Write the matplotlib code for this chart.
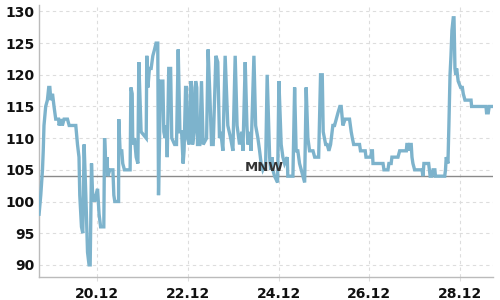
import matplotlib
matplotlib.use("Agg")
import matplotlib.pyplot as plt
import matplotlib.dates as mdates
import numpy as np
import pandas as pd

# Hours since 18.12. 00:00 and water level readings
hours = [17.5, 18.4, 19.3, 19.7, 20.1, 21.0, 21.9, 22.6, 23.2, 23.7, 24.6, 25.4, 26.3, 27.8, 28.1,
         29.0, 29.8, 30.7, 32.5, 33.4, 36.9, 37.8, 38.6, 39.0, 39.9, 40.6, 41.3, 42.2, 43.1, 43.9,
         44.5, 45.2, 45.9, 46.4, 46.9, 47.5, 48.4, 49.2, 50.0, 51.7, 52.1, 52.9, 53.4, 53.8, 54.9,
         56.5, 57.0, 57.5, 59.5, 59.6, 60.3, 61.2, 61.7, 62.6, 65.6, 66.0, 66.7, 67.0, 67.9, 68.8,
         69.7, 70.2, 71.1, 71.4, 74.1, 74.4, 75.0, 75.8, 76.7, 77.6, 78.5, 79.3, 80.2, 80.6, 81.7,
         82.9, 83.4, 84.1, 84.8, 85.2, 86.0, 87.0, 87.6, 89.1, 90.1, 91.0, 91.9, 92.8, 93.6, 94.1,
         94.9, 95.4, 95.9, 96.8, 97.1, 97.7, 98.2, 98.6, 99.4, 100.2, 100.8, 101.2, 102.4, 103.3,
         104.2, 106.0, 106.8, 107.7, 108.6, 109.5, 110.9, 111.9, 112.8, 113.5, 114.6, 115.8, 117.2,
         118.7, 119.9, 121.1, 122.1, 123.4, 124.6, 125.2, 126.4, 127.3, 127.8, 128.7, 129.5, 131.0,
         131.9, 133.1, 134.0, 134.8, 135.7, 137.2, 138.0, 139.3, 139.8, 140.5, 141.0, 141.9, 143.5,
         144.2, 145.4, 146.3, 147.2, 148.6, 148.9, 151.6, 152.5, 153.3, 154.2, 155.1, 156.0, 156.9,
         157.8, 158.6, 159.5, 160.4, 162.2, 163.1, 165.2, 166.2, 167.1, 167.6, 168.9, 169.7, 170.6,
         171.5, 172.7, 173.6, 175.4, 176.4, 177.1, 178.0, 179.2, 181.5, 182.4, 183.0, 183.7, 186.8,
         187.3, 189.8, 190.2, 192.8, 193.1, 193.6, 193.9, 199.2, 199.7, 201.8, 202.3, 203.5, 203.9,
         207.1, 208.0, 211.5, 211.8, 212.4, 212.9, 213.3, 214.1, 214.5, 215.0, 215.9, 219.8, 220.3,
         220.8, 223.3, 223.7, 224.1, 225.0, 225.6, 226.6, 226.9, 231.8, 232.2, 232.6, 233.5, 234.0,
         234.6, 235.1, 235.6, 236.3, 236.7, 237.2, 237.6, 238.1, 238.9, 240.2, 241.1, 241.6, 242.5,
         245.7, 246.0, 253.6, 253.9, 254.8, 255.3, 256.6]
level = [98, 101, 105, 108, 112, 115, 116, 118, 118, 116, 117, 115, 113, 113, 112,
         113, 112, 113, 113, 112, 112, 109, 107, 101, 96, 95, 109, 101, 92, 90,
         90, 106, 100, 101, 100, 101, 102, 98, 96, 96, 110, 105, 107, 104, 105,
         105, 101, 100, 100, 113, 108, 108, 106, 105, 105, 118, 117, 109, 110, 107,
         106, 122, 114, 111, 110, 123, 118, 121, 121, 123, 124, 125, 125, 101, 119,
         119, 111, 110, 112, 107, 121, 121, 110, 109, 109, 124, 111, 111, 106, 108,
         118, 118, 110, 109, 111, 119, 118, 109, 111, 119, 118, 109, 109, 119,
         109, 110, 124, 117, 109, 109, 123, 122, 110, 111, 108, 123, 112,
         110, 108, 123, 112, 109, 111, 108, 122, 112, 109, 111, 108, 123,
         112, 110, 108, 106, 105, 106, 120, 107, 105, 107, 105, 104, 103,
         119, 109, 107, 106, 107, 104, 104, 118, 108, 108, 106, 105, 104,
         103, 118, 110, 108, 108, 107, 107, 120, 120, 111, 109, 109, 108,
         109, 112, 112, 114, 115, 115, 112, 113, 113, 111, 110, 109, 109,
         108, 108, 107, 107, 108, 108, 106, 106, 105, 105, 106, 106, 107,
         107, 108, 108, 109, 109, 108, 109, 109, 107, 106, 105, 105, 104,
         106, 106, 105, 104, 104, 105, 105, 104, 104, 105, 107, 106, 112,
         120, 123, 127, 129, 129, 121, 120, 121, 119, 118, 118, 117, 116,
         116, 115, 115, 114, 114, 115, 115]

mnw_value = 104
mnw_label = "MNW"
tick_dates = ["2023-12-20", "2023-12-22", "2023-12-24", "2023-12-26", "2023-12-28"]
y_ticks = [90, 95, 100, 105, 110, 115, 120, 125, 130]

base = pd.Timestamp("2023-12-18")
times = base + pd.to_timedelta(hours, unit="h")

fig = plt.figure(figsize=(5, 3), dpi=100)
ax = fig.add_axes([0.077, 0.077, 0.909, 0.906])

ax.plot(times, level, color="#7db3cc", lw=2.4, solid_joinstyle="miter", zorder=3)
ax.axhline(mnw_value, color="#8a8a8a", lw=1.0, zorder=2)
ax.text(base + pd.Timedelta(hours=136.5), mnw_value + 0.4, mnw_label,
        ha="center", va="bottom", fontsize=9.5, fontweight="bold", color="#333333", zorder=4)

ax.set_xlim(base + pd.Timedelta(hours=17.2), base + pd.Timedelta(hours=257.3))
ax.set_ylim(88.1, 131.0)
ax.set_xticks(pd.to_datetime(tick_dates))
ax.xaxis.set_major_formatter(mdates.DateFormatter("%d.%m"))
ax.set_yticks(y_ticks)

ax.grid(True, color="#dddddd", linestyle=(0, (3, 3)), lw=0.8)
ax.set_axisbelow(True)
for s in ["top", "right"]:
    ax.spines[s].set_visible(False)
for s in ["left", "bottom"]:
    ax.spines[s].set_color("#bbbbbb")
    ax.spines[s].set_linewidth(1.0)

ax.tick_params(axis="y", length=0, pad=3, labelsize=10)
ax.tick_params(axis="x", length=3, color="#dddddd", pad=4, labelsize=10)
for lab in ax.get_xticklabels() + ax.get_yticklabels():
    lab.set_fontweight("bold")
    lab.set_color("#111111")

fig.savefig("out.png", dpi=100)
